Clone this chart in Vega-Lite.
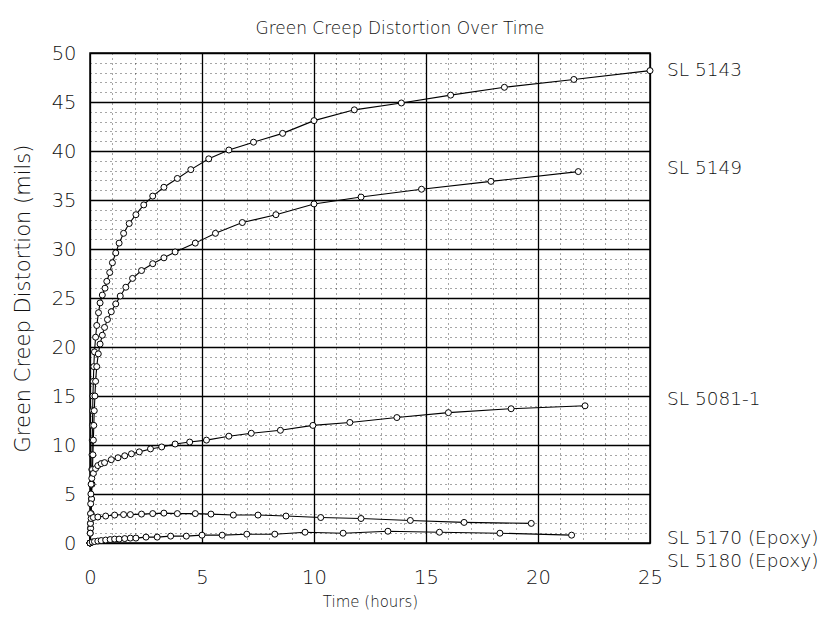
{
  "$schema": "https://vega.github.io/schema/vega-lite/v6.json",
  "width": 560,
  "height": 490,
  "autosize": {"type": "none"},
  "padding": {"left": 90, "top": 53, "right": 181, "bottom": 76},
  "background": "white",
  "title": {"text": "Green Creep Distortion Over Time", "font": "DejaVu Sans", "fontSize": 17, "fontWeight": 200, "color": "#111", "offset": 5, "anchor": "middle", "dx": 30},
  "config": {
    "view": {"stroke": "black", "strokeWidth": 1.5},
    "axis": {
      "grid": true,
      "gridColor": "black",
      "gridDash": {"condition": {"test": "datum.value % 5 === 0", "value": []}, "value": [1, 4]},
      "gridWidth": {"condition": {"test": "datum.value % 5 === 0", "value": 1.3}, "value": 1},
      "gridOpacity": {"condition": {"test": "datum.value % 5 === 0", "value": 1}, "value": 0.7},
      "ticks": false,
      "domain": false,
      "labelExpr": "datum.value % 5 === 0 ? datum.label : ''",
      "labelOverlap": false,
      "labelFlush": false,
      "labelFont": "DejaVu Sans",
      "labelFontSize": 19.5,
      "labelFontWeight": 200,
      "labelColor": "#111",
      "titleFont": "DejaVu Sans",
      "titleFontWeight": 200,
      "titleColor": "#111"
    }
  },
  "datasets": {
    "curves": [
      {"series": "SL 5143", "t": 0, "v": 0}, {"series": "SL 5143", "t": 0.02, "v": 1.5}, {"series": "SL 5143", "t": 0.04, "v": 3}, {"series": "SL 5143", "t": 0.06, "v": 4.5}, {"series": "SL 5143", "t": 0.07, "v": 6}, {"series": "SL 5143", "t": 0.08, "v": 7.5}, {"series": "SL 5143", "t": 0.09, "v": 9}, {"series": "SL 5143", "t": 0.1, "v": 10.5}, {"series": "SL 5143", "t": 0.11, "v": 12}, {"series": "SL 5143", "t": 0.12, "v": 13.5}, {"series": "SL 5143", "t": 0.13, "v": 15}, {"series": "SL 5143", "t": 0.15, "v": 16.5}, {"series": "SL 5143", "t": 0.17, "v": 18}, {"series": "SL 5143", "t": 0.2, "v": 19.5}, {"series": "SL 5143", "t": 0.25, "v": 21}, {"series": "SL 5143", "t": 0.3, "v": 22.2}, {"series": "SL 5143", "t": 0.38, "v": 23.5}, {"series": "SL 5143", "t": 0.45, "v": 24.5}, {"series": "SL 5143", "t": 0.55, "v": 25.3}, {"series": "SL 5143", "t": 0.67, "v": 26}, {"series": "SL 5143", "t": 0.75, "v": 26.7}, {"series": "SL 5143", "t": 0.88, "v": 27.6}, {"series": "SL 5143", "t": 1.0, "v": 28.6}, {"series": "SL 5143", "t": 1.15, "v": 29.6}, {"series": "SL 5143", "t": 1.3, "v": 30.6}, {"series": "SL 5143", "t": 1.5, "v": 31.6}, {"series": "SL 5143", "t": 1.75, "v": 32.6}, {"series": "SL 5143", "t": 2.05, "v": 33.5}, {"series": "SL 5143", "t": 2.4, "v": 34.5}, {"series": "SL 5143", "t": 2.8, "v": 35.4}, {"series": "SL 5143", "t": 3.3, "v": 36.3}, {"series": "SL 5143", "t": 3.9, "v": 37.2}, {"series": "SL 5143", "t": 4.5, "v": 38.1}, {"series": "SL 5143", "t": 5.3, "v": 39.2}, {"series": "SL 5143", "t": 6.2, "v": 40.1}, {"series": "SL 5143", "t": 7.3, "v": 40.9}, {"series": "SL 5143", "t": 8.6, "v": 41.8}, {"series": "SL 5143", "t": 10.0, "v": 43.1}, {"series": "SL 5143", "t": 11.8, "v": 44.2}, {"series": "SL 5143", "t": 13.9, "v": 44.9}, {"series": "SL 5143", "t": 16.1, "v": 45.7}, {"series": "SL 5143", "t": 18.5, "v": 46.5}, {"series": "SL 5143", "t": 21.6, "v": 47.3}, {"series": "SL 5143", "t": 25, "v": 48.2},
      {"series": "SL 5149", "t": 0, "v": 0}, {"series": "SL 5149", "t": 0.03, "v": 1.5}, {"series": "SL 5149", "t": 0.05, "v": 3}, {"series": "SL 5149", "t": 0.07, "v": 4.5}, {"series": "SL 5149", "t": 0.09, "v": 6}, {"series": "SL 5149", "t": 0.11, "v": 7.5}, {"series": "SL 5149", "t": 0.13, "v": 9}, {"series": "SL 5149", "t": 0.15, "v": 10.5}, {"series": "SL 5149", "t": 0.17, "v": 12}, {"series": "SL 5149", "t": 0.19, "v": 13.5}, {"series": "SL 5149", "t": 0.22, "v": 15}, {"series": "SL 5149", "t": 0.25, "v": 16.5}, {"series": "SL 5149", "t": 0.3, "v": 18}, {"series": "SL 5149", "t": 0.37, "v": 19.3}, {"series": "SL 5149", "t": 0.45, "v": 20.3}, {"series": "SL 5149", "t": 0.55, "v": 21.2}, {"series": "SL 5149", "t": 0.65, "v": 22}, {"series": "SL 5149", "t": 0.78, "v": 22.8}, {"series": "SL 5149", "t": 0.95, "v": 23.6}, {"series": "SL 5149", "t": 1.15, "v": 24.4}, {"series": "SL 5149", "t": 1.35, "v": 25.2}, {"series": "SL 5149", "t": 1.6, "v": 26.1}, {"series": "SL 5149", "t": 1.9, "v": 27.0}, {"series": "SL 5149", "t": 2.3, "v": 27.8}, {"series": "SL 5149", "t": 2.8, "v": 28.5}, {"series": "SL 5149", "t": 3.3, "v": 29.1}, {"series": "SL 5149", "t": 3.8, "v": 29.7}, {"series": "SL 5149", "t": 4.7, "v": 30.6}, {"series": "SL 5149", "t": 5.6, "v": 31.6}, {"series": "SL 5149", "t": 6.8, "v": 32.7}, {"series": "SL 5149", "t": 8.3, "v": 33.5}, {"series": "SL 5149", "t": 10.0, "v": 34.6}, {"series": "SL 5149", "t": 12.1, "v": 35.3}, {"series": "SL 5149", "t": 14.8, "v": 36.1}, {"series": "SL 5149", "t": 17.9, "v": 36.9}, {"series": "SL 5149", "t": 21.8, "v": 37.9},
      {"series": "SL 5081-1", "t": 0, "v": 0}, {"series": "SL 5081-1", "t": 0.01, "v": 1}, {"series": "SL 5081-1", "t": 0.02, "v": 2}, {"series": "SL 5081-1", "t": 0.025, "v": 3}, {"series": "SL 5081-1", "t": 0.03, "v": 4}, {"series": "SL 5081-1", "t": 0.04, "v": 5}, {"series": "SL 5081-1", "t": 0.05, "v": 6}, {"series": "SL 5081-1", "t": 0.08, "v": 6.6}, {"series": "SL 5081-1", "t": 0.15, "v": 7.1}, {"series": "SL 5081-1", "t": 0.25, "v": 7.6}, {"series": "SL 5081-1", "t": 0.35, "v": 7.9}, {"series": "SL 5081-1", "t": 0.5, "v": 8.1}, {"series": "SL 5081-1", "t": 0.65, "v": 8.2}, {"series": "SL 5081-1", "t": 0.95, "v": 8.5}, {"series": "SL 5081-1", "t": 1.25, "v": 8.7}, {"series": "SL 5081-1", "t": 1.55, "v": 8.9}, {"series": "SL 5081-1", "t": 1.85, "v": 9.1}, {"series": "SL 5081-1", "t": 2.2, "v": 9.3}, {"series": "SL 5081-1", "t": 2.7, "v": 9.6}, {"series": "SL 5081-1", "t": 3.2, "v": 9.8}, {"series": "SL 5081-1", "t": 3.8, "v": 10.1}, {"series": "SL 5081-1", "t": 4.45, "v": 10.3}, {"series": "SL 5081-1", "t": 5.2, "v": 10.5}, {"series": "SL 5081-1", "t": 6.2, "v": 10.9}, {"series": "SL 5081-1", "t": 7.2, "v": 11.2}, {"series": "SL 5081-1", "t": 8.5, "v": 11.5}, {"series": "SL 5081-1", "t": 9.95, "v": 12.0}, {"series": "SL 5081-1", "t": 11.6, "v": 12.3}, {"series": "SL 5081-1", "t": 13.7, "v": 12.8}, {"series": "SL 5081-1", "t": 16.0, "v": 13.3}, {"series": "SL 5081-1", "t": 18.8, "v": 13.7}, {"series": "SL 5081-1", "t": 22.1, "v": 14.0},
      {"series": "SL 5170 (Epoxy)", "t": 0, "v": 0}, {"series": "SL 5170 (Epoxy)", "t": 0.01, "v": 1}, {"series": "SL 5170 (Epoxy)", "t": 0.02, "v": 2}, {"series": "SL 5170 (Epoxy)", "t": 0.05, "v": 2.5}, {"series": "SL 5170 (Epoxy)", "t": 0.15, "v": 2.6}, {"series": "SL 5170 (Epoxy)", "t": 0.35, "v": 2.65}, {"series": "SL 5170 (Epoxy)", "t": 0.7, "v": 2.75}, {"series": "SL 5170 (Epoxy)", "t": 1.1, "v": 2.85}, {"series": "SL 5170 (Epoxy)", "t": 1.5, "v": 2.9}, {"series": "SL 5170 (Epoxy)", "t": 1.8, "v": 2.9}, {"series": "SL 5170 (Epoxy)", "t": 2.3, "v": 2.95}, {"series": "SL 5170 (Epoxy)", "t": 2.8, "v": 3.0}, {"series": "SL 5170 (Epoxy)", "t": 3.3, "v": 3.05}, {"series": "SL 5170 (Epoxy)", "t": 3.9, "v": 3.0}, {"series": "SL 5170 (Epoxy)", "t": 4.7, "v": 3.0}, {"series": "SL 5170 (Epoxy)", "t": 5.4, "v": 2.95}, {"series": "SL 5170 (Epoxy)", "t": 6.4, "v": 2.85}, {"series": "SL 5170 (Epoxy)", "t": 7.5, "v": 2.85}, {"series": "SL 5170 (Epoxy)", "t": 8.75, "v": 2.75}, {"series": "SL 5170 (Epoxy)", "t": 10.3, "v": 2.6}, {"series": "SL 5170 (Epoxy)", "t": 12.1, "v": 2.5}, {"series": "SL 5170 (Epoxy)", "t": 14.3, "v": 2.3}, {"series": "SL 5170 (Epoxy)", "t": 16.7, "v": 2.1}, {"series": "SL 5170 (Epoxy)", "t": 19.7, "v": 2.0},
      {"series": "SL 5180 (Epoxy)", "t": 0, "v": 0}, {"series": "SL 5180 (Epoxy)", "t": 0.1, "v": 0.1}, {"series": "SL 5180 (Epoxy)", "t": 0.2, "v": 0.15}, {"series": "SL 5180 (Epoxy)", "t": 0.35, "v": 0.2}, {"series": "SL 5180 (Epoxy)", "t": 0.5, "v": 0.25}, {"series": "SL 5180 (Epoxy)", "t": 0.7, "v": 0.3}, {"series": "SL 5180 (Epoxy)", "t": 0.9, "v": 0.35}, {"series": "SL 5180 (Epoxy)", "t": 1.1, "v": 0.4}, {"series": "SL 5180 (Epoxy)", "t": 1.3, "v": 0.4}, {"series": "SL 5180 (Epoxy)", "t": 1.55, "v": 0.45}, {"series": "SL 5180 (Epoxy)", "t": 1.8, "v": 0.5}, {"series": "SL 5180 (Epoxy)", "t": 2.05, "v": 0.5}, {"series": "SL 5180 (Epoxy)", "t": 2.5, "v": 0.6}, {"series": "SL 5180 (Epoxy)", "t": 3.0, "v": 0.6}, {"series": "SL 5180 (Epoxy)", "t": 3.6, "v": 0.7}, {"series": "SL 5180 (Epoxy)", "t": 4.3, "v": 0.7}, {"series": "SL 5180 (Epoxy)", "t": 5.0, "v": 0.8}, {"series": "SL 5180 (Epoxy)", "t": 5.9, "v": 0.8}, {"series": "SL 5180 (Epoxy)", "t": 7.0, "v": 0.9}, {"series": "SL 5180 (Epoxy)", "t": 8.25, "v": 0.9}, {"series": "SL 5180 (Epoxy)", "t": 9.6, "v": 1.1}, {"series": "SL 5180 (Epoxy)", "t": 11.3, "v": 1.0}, {"series": "SL 5180 (Epoxy)", "t": 13.3, "v": 1.2}, {"series": "SL 5180 (Epoxy)", "t": 15.6, "v": 1.1}, {"series": "SL 5180 (Epoxy)", "t": 18.3, "v": 1.0}, {"series": "SL 5180 (Epoxy)", "t": 21.5, "v": 0.8}
    ],
    "labels": [
      {"series": "SL 5143", "v": 48.3},
      {"series": "SL 5149", "v": 38.3},
      {"series": "SL 5081-1", "v": 14.7},
      {"series": "SL 5170 (Epoxy)", "v": 0.5},
      {"series": "SL 5180 (Epoxy)", "v": -1.8}
    ]
  },
  "layer": [
    {
      "data": {"name": "curves"},
      "mark": {"type": "line", "color": "black", "strokeWidth": 1.1, "point": {"filled": true, "fill": "white", "stroke": "black", "strokeWidth": 1, "size": 36}},
      "encoding": {
        "x": {"field": "t", "type": "quantitative", "scale": {"domain": [0, 25], "nice": false},
          "axis": {"values": [0,1,2,3,4,5,6,7,8,9,10,11,12,13,14,15,16,17,18,19,20,21,22,23,24,25], "labelPadding": 25, "title": "Time (hours)", "titleFontSize": 15, "titlePadding": 8}},
        "y": {"field": "v", "type": "quantitative", "scale": {"domain": [0, 50], "nice": false},
          "axis": {"values": [0,1,2,3,4,5,6,7,8,9,10,11,12,13,14,15,16,17,18,19,20,21,22,23,24,25,26,27,28,29,30,31,32,33,34,35,36,37,38,39,40,41,42,43,44,45,46,47,48,49,50], "labelPadding": 14, "title": "Green Creep Distortion (mils)", "titleFontSize": 21, "titlePadding": 18}},
        "detail": {"field": "series"}
      }
    },
    {
      "data": {"name": "labels"},
      "mark": {"type": "text", "align": "left", "baseline": "middle", "dx": 17, "font": "DejaVu Sans", "fontSize": 18.5, "fontWeight": 200, "color": "#111"},
      "encoding": {
        "x": {"datum": 25, "type": "quantitative",
          "axis": {"values": [0,1,2,3,4,5,6,7,8,9,10,11,12,13,14,15,16,17,18,19,20,21,22,23,24,25], "labelPadding": 25, "title": "Time (hours)", "titleFontSize": 15, "titlePadding": 8}},
        "y": {"field": "v", "type": "quantitative",
          "axis": {"values": [0,1,2,3,4,5,6,7,8,9,10,11,12,13,14,15,16,17,18,19,20,21,22,23,24,25,26,27,28,29,30,31,32,33,34,35,36,37,38,39,40,41,42,43,44,45,46,47,48,49,50], "labelPadding": 14, "title": "Green Creep Distortion (mils)", "titleFontSize": 21, "titlePadding": 18}},
        "text": {"field": "series"}
      }
    }
  ]
}
